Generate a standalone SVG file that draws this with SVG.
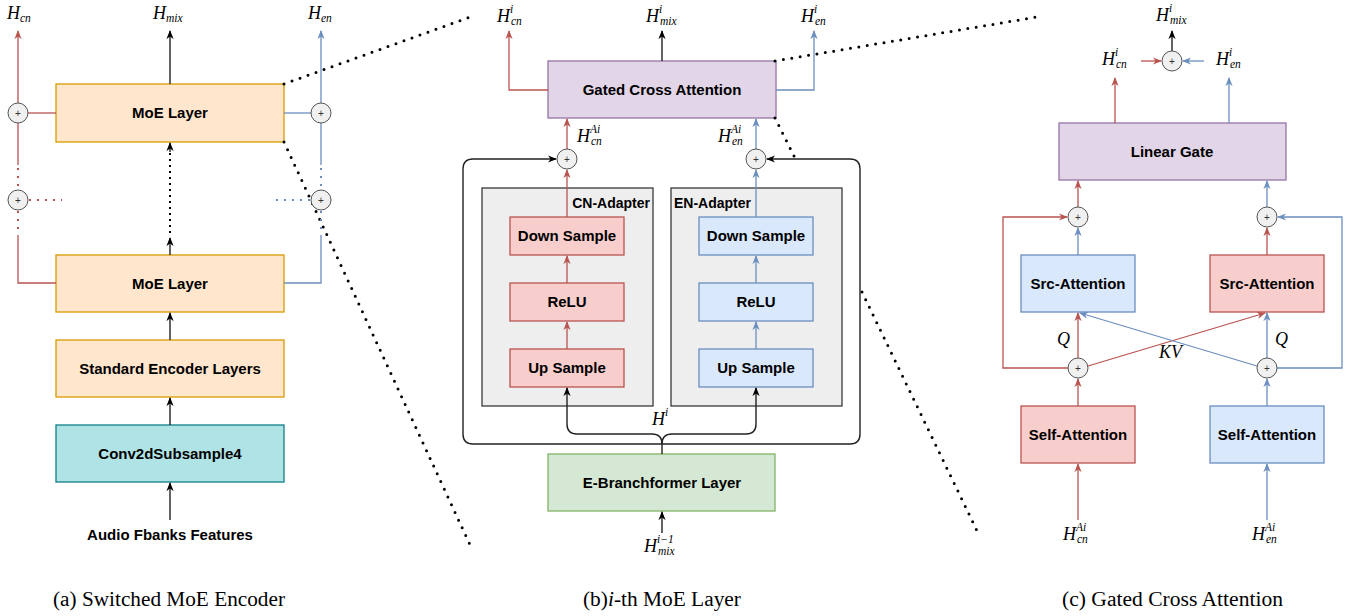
<svg xmlns="http://www.w3.org/2000/svg" width="1351" height="616" viewBox="0 0 1351 616">
<style>
.box{stroke-width:1.3}
.or{fill:#ffe6cc;stroke:#d79b00}
.cy{fill:#b0e3e6;stroke:#0e8088}
.pu{fill:#e1d5e7;stroke:#9673a6}
.gr{fill:#d5e8d4;stroke:#82b366}
.gy{fill:#eeeeee;stroke:#36393d}
.rd{fill:#f8cecc;stroke:#b85450}
.bl{fill:#dae8fc;stroke:#6c8ebf}
.t{font-family:"Liberation Sans",Arial,sans-serif;font-weight:bold;font-size:15px;fill:#000;text-anchor:middle}
.ts{font-family:"Liberation Sans",Arial,sans-serif;font-weight:bold;font-size:14px;fill:#000}
.m{font-family:"Liberation Serif","Times New Roman",serif;font-style:italic;font-size:18px;fill:#000}
.s{font-size:11.5px}
.cap{font-family:"Liberation Serif","Times New Roman",serif;font-size:20px;fill:#000}
.pc{fill:#f0f0f0;stroke:#555;stroke-width:1}
.pt{font-family:"Liberation Sans",Arial,sans-serif;font-size:10px;fill:#333;text-anchor:middle}
.k{fill:none;stroke:#222;stroke-width:1.4}
.r{fill:none;stroke:#b85450;stroke-width:1.3}
.b{fill:none;stroke:#6c8ebf;stroke-width:1.3}
.zd{fill:none;stroke:#000;stroke-width:3;stroke-dasharray:0 8.5;stroke-linecap:round}
.rdot{fill:none;stroke:#b85450;stroke-width:2;stroke-dasharray:2 6}
.bdot{fill:none;stroke:#6c8ebf;stroke-width:2;stroke-dasharray:2 6}
.kdot{fill:none;stroke:#000;stroke-width:2;stroke-dasharray:2 4}
</style>
<defs>
<marker id="ak" viewBox="0 0 10 10" refX="9" refY="5" markerWidth="9" markerHeight="9" markerUnits="userSpaceOnUse" orient="auto"><path d="M0,1 L10,5 L0,9 L3,5 z" fill="#000"/></marker>
<marker id="ar" viewBox="0 0 10 10" refX="9" refY="5" markerWidth="9" markerHeight="9" markerUnits="userSpaceOnUse" orient="auto"><path d="M0,1 L10,5 L0,9 L3,5 z" fill="#b85450"/></marker>
<marker id="ab" viewBox="0 0 10 10" refX="9" refY="5" markerWidth="9" markerHeight="9" markerUnits="userSpaceOnUse" orient="auto"><path d="M0,1 L10,5 L0,9 L3,5 z" fill="#6c8ebf"/></marker>
</defs>
<rect width="1351" height="616" fill="#fff"/>

<!-- panel a nodes -->
<g id="moe1"><rect class="box or" x="56" y="84" width="228" height="58"/><text class="t" x="170" y="118">MoE Layer</text></g>
<g id="moe2"><rect class="box or" x="56" y="255" width="228" height="57"/><text class="t" x="170" y="289">MoE Layer</text></g>
<g id="std"><rect class="box or" x="56" y="340" width="228" height="57"/><text class="t" x="170" y="374">Standard Encoder Layers</text></g>
<g id="conv"><rect class="box cy" x="56" y="425" width="228" height="57"/><text class="t" x="170" y="459">Conv2dSubsample4</text></g>
<g id="audio"><text class="t" x="170" y="540">Audio Fbanks Features</text></g>

<!-- panel b nodes -->
<g id="gca"><rect class="box pu" x="548" y="61" width="228" height="57"/><text class="t" x="662" y="95">Gated Cross Attention</text></g>
<g id="cn-adapter"><rect class="box gy" x="482" y="188" width="171" height="218"/><text class="ts" x="650" y="208" text-anchor="end">CN-Adapter</text></g>
<g id="en-adapter"><rect class="box gy" x="671" y="188" width="171" height="218"/><text class="ts" x="674" y="208">EN-Adapter</text></g>
<g id="cn-down"><rect class="box rd" x="510" y="217" width="114" height="38"/><text class="t" x="567" y="241">Down Sample</text></g>
<g id="cn-relu"><rect class="box rd" x="510" y="283" width="114" height="38"/><text class="t" x="567" y="307">ReLU</text></g>
<g id="cn-up"><rect class="box rd" x="510" y="349" width="114" height="38"/><text class="t" x="567" y="373">Up Sample</text></g>
<g id="en-down"><rect class="box bl" x="699" y="217" width="114" height="38"/><text class="t" x="756" y="241">Down Sample</text></g>
<g id="en-relu"><rect class="box bl" x="699" y="283" width="114" height="38"/><text class="t" x="756" y="307">ReLU</text></g>
<g id="en-up"><rect class="box bl" x="699" y="349" width="114" height="38"/><text class="t" x="756" y="373">Up Sample</text></g>
<g id="ebranch"><rect class="box gr" x="548" y="454" width="227" height="57"/><text class="t" x="662" y="488">E-Branchformer Layer</text></g>

<!-- panel c nodes -->
<g id="linear-gate"><rect class="box pu" x="1059" y="123" width="227" height="57"/><text class="t" x="1172" y="157">Linear Gate</text></g>
<g id="src-l"><rect class="box bl" x="1021" y="255" width="114" height="57"/><text class="t" x="1078" y="289">Src-Attention</text></g>
<g id="src-r"><rect class="box rd" x="1210" y="255" width="114" height="57"/><text class="t" x="1267" y="289">Src-Attention</text></g>
<g id="self-l"><rect class="box rd" x="1021" y="406" width="114" height="57"/><text class="t" x="1078" y="440">Self-Attention</text></g>
<g id="self-r"><rect class="box bl" x="1210" y="406" width="114" height="57"/><text class="t" x="1267" y="440">Self-Attention</text></g>

<g id="connectors">
<!-- zoom dotted lines -->
<path class="zd" d="M284,84 L470,17"/>
<path class="zd" d="M284,142 L471,547"/>
<path class="zd" d="M775,61 L1037,17"/>
<path class="zd" d="M775,118 L796,160"/>
<path class="zd" d="M862,292 L980,537"/>
<!-- panel a -->
<path class="r" d="M18,103 V31" marker-end="url(#ar)"/>
<path class="r" d="M56,113 H28"/>
<path class="r" d="M18,123 V165"/>
<path class="rdot" d="M18,168 V190"/>
<path class="rdot" d="M18,211 V233"/>
<path class="r" d="M18,235 V283 H56"/>
<path class="rdot" d="M29,200 H62"/>
<path class="b" d="M321,103 V31" marker-end="url(#ab)"/>
<path class="b" d="M284,113 H311"/>
<path class="b" d="M321,123 V165"/>
<path class="bdot" d="M321,168 V190"/>
<path class="bdot" d="M321,211 V233"/>
<path class="b" d="M321,235 V283 H284"/>
<path class="bdot" d="M310,200 H274"/>
<path class="k" d="M170,84 V31" marker-end="url(#ak)"/>
<path class="k" d="M170,255 V238" marker-end="url(#ak)"/>
<path class="kdot" d="M170,233 V153"/>
<path class="k" d="M170,152 V143" marker-end="url(#ak)"/>
<path class="k" d="M170,340 V313" marker-end="url(#ak)"/>
<path class="k" d="M170,425 V398" marker-end="url(#ak)"/>
<path class="k" d="M170,520 V483" marker-end="url(#ak)"/>
<!-- panel b -->
<path class="r" d="M548,90 H509 V31" marker-end="url(#ar)"/>
<path class="b" d="M776,90 H814 V31" marker-end="url(#ab)"/>
<path class="k" d="M662,61 V31" marker-end="url(#ak)"/>
<path class="r" d="M567,149 V119" marker-end="url(#ar)"/>
<path class="b" d="M756,149 V119" marker-end="url(#ab)"/>
<path class="r" d="M567,217 V170" marker-end="url(#ar)"/>
<path class="b" d="M756,217 V170" marker-end="url(#ab)"/>
<path class="r" d="M567,283 V256" marker-end="url(#ar)"/>
<path class="r" d="M567,349 V322" marker-end="url(#ar)"/>
<path class="b" d="M756,283 V256" marker-end="url(#ab)"/>
<path class="b" d="M756,349 V322" marker-end="url(#ab)"/>
<path class="k" d="M662,444 H473 Q463,444 463,434 V169 Q463,159 473,159 H556" marker-end="url(#ak)"/>
<path class="k" d="M662,444 H850 Q860,444 860,434 V169 Q860,159 850,159 H767" marker-end="url(#ak)"/>
<path class="k" d="M662,444 Q662,434 652,434 H577 Q567,434 567,424 V388" marker-end="url(#ak)"/>
<path class="k" d="M662,444 Q662,434 672,434 H746 Q756,434 756,424 V388" marker-end="url(#ak)"/>
<path class="k" d="M662,454 V444"/>
<path class="k" d="M662,533 V512" marker-end="url(#ak)"/>
<!-- panel c -->
<path class="k" d="M1172,51 V31" marker-end="url(#ak)"/>
<path class="r" d="M1141,61 H1161" marker-end="url(#ar)"/>
<path class="b" d="M1204,61 H1183" marker-end="url(#ab)"/>
<path class="r" d="M1115,123 V78" marker-end="url(#ar)"/>
<path class="b" d="M1229,123 V78" marker-end="url(#ab)"/>
<path class="r" d="M1078,207 V181" marker-end="url(#ar)"/>
<path class="b" d="M1267,207 V181" marker-end="url(#ab)"/>
<path class="b" d="M1078,255 V228" marker-end="url(#ab)"/>
<path class="r" d="M1267,255 V228" marker-end="url(#ar)"/>
<path class="r" d="M1068,368 H1003 V217 H1067" marker-end="url(#ar)"/>
<path class="b" d="M1277,368 H1342 V217 H1278" marker-end="url(#ab)"/>
<path class="r" d="M1078,358 V313" marker-end="url(#ar)"/>
<path class="b" d="M1267,358 V313" marker-end="url(#ab)"/>
<path class="r" d="M1088,366 L1265,313" marker-end="url(#ar)"/>
<path class="b" d="M1257,366 L1080,313" marker-end="url(#ab)"/>
<path class="r" d="M1078,406 V379" marker-end="url(#ar)"/>
<path class="b" d="M1267,406 V379" marker-end="url(#ab)"/>
<path class="r" d="M1078,520 V464" marker-end="url(#ar)"/>
<path class="b" d="M1267,520 V464" marker-end="url(#ab)"/>
</g>

<g id="plus-a1"><circle class="pc" cx="18" cy="113" r="10"/><text class="pt" x="18" y="117">+</text></g>
<g id="plus-a2"><circle class="pc" cx="321" cy="113" r="10"/><text class="pt" x="321" y="117">+</text></g>
<g id="plus-a3"><circle class="pc" cx="18" cy="200" r="10"/><text class="pt" x="18" y="204">+</text></g>
<g id="plus-a4"><circle class="pc" cx="321" cy="200" r="10"/><text class="pt" x="321" y="204">+</text></g>
<g id="plus-b1"><circle class="pc" cx="567" cy="159" r="10"/><text class="pt" x="567" y="163">+</text></g>
<g id="plus-b2"><circle class="pc" cx="756" cy="159" r="10"/><text class="pt" x="756" y="163">+</text></g>
<g id="plus-c0"><circle class="pc" cx="1172" cy="61" r="10"/><text class="pt" x="1172" y="65">+</text></g>
<g id="plus-c1"><circle class="pc" cx="1078" cy="217" r="10"/><text class="pt" x="1078" y="221">+</text></g>
<g id="plus-c2"><circle class="pc" cx="1267" cy="217" r="10"/><text class="pt" x="1267" y="221">+</text></g>
<g id="plus-c3"><circle class="pc" cx="1078" cy="368" r="10"/><text class="pt" x="1078" y="372">+</text></g>
<g id="plus-c4"><circle class="pc" cx="1267" cy="368" r="10"/><text class="pt" x="1267" y="372">+</text></g>

<g id="labels-a">
<text class="m" x="7" y="19">H<tspan class="s" dy="3">cn</tspan></text>
<text class="m" x="153" y="19">H<tspan class="s" dy="3">mix</tspan></text>
<text class="m" x="308" y="19">H<tspan class="s" dy="3">en</tspan></text>
</g>
<g id="labels-b">
<text class="m" x="497" y="22">H<tspan class="s" dy="-9">i</tspan><tspan class="s" x="511" dy="12">cn</tspan></text>
<text class="m" x="646" y="22">H<tspan class="s" dy="-9">i</tspan><tspan class="s" x="660" dy="12">mix</tspan></text>
<text class="m" x="801" y="22">H<tspan class="s" dy="-9">i</tspan><tspan class="s" x="815" dy="12">en</tspan></text>
<text class="m" x="577" y="142">H<tspan class="s" dy="-9">Ai</tspan><tspan class="s" x="591" dy="12">cn</tspan></text>
<text class="m" x="718" y="142">H<tspan class="s" dy="-9">Ai</tspan><tspan class="s" x="732" dy="12">en</tspan></text>
<text class="m" x="652" y="425">H<tspan class="s" dy="-9">i</tspan></text>
<text class="m" x="644" y="552">H<tspan class="s" dy="-9">i−1</tspan><tspan class="s" x="658" dy="12">mix</tspan></text>
</g>
<g id="labels-c">
<text class="m" x="1156" y="21">H<tspan class="s" dy="-9">i</tspan><tspan class="s" x="1170" dy="12">mix</tspan></text>
<text class="m" x="1102" y="65">H<tspan class="s" dy="-9">i</tspan><tspan class="s" x="1116" dy="12">cn</tspan></text>
<text class="m" x="1216" y="65">H<tspan class="s" dy="-9">i</tspan><tspan class="s" x="1230" dy="12">en</tspan></text>
<text class="m" x="1057" y="345">Q</text>
<text class="m" x="1275" y="345">Q</text>
<text class="m" x="1159" y="358">KV</text>
<text class="m" x="1063" y="540">H<tspan class="s" dy="-9">Ai</tspan><tspan class="s" x="1077" dy="12">cn</tspan></text>
<text class="m" x="1252" y="540">H<tspan class="s" dy="-9">Ai</tspan><tspan class="s" x="1266" dy="12">en</tspan></text>
</g>

<g id="captions">
<text class="cap" x="53" y="606" textLength="232" lengthAdjust="spacingAndGlyphs">(a) Switched MoE Encoder</text>
<text class="cap" x="583" y="606" textLength="158" lengthAdjust="spacingAndGlyphs">(b)<tspan font-style="italic">i</tspan>-th MoE Layer</text>
<text class="cap" x="1062" y="606" textLength="221" lengthAdjust="spacingAndGlyphs">(c) Gated Cross Attention</text>
</g>
</svg>
